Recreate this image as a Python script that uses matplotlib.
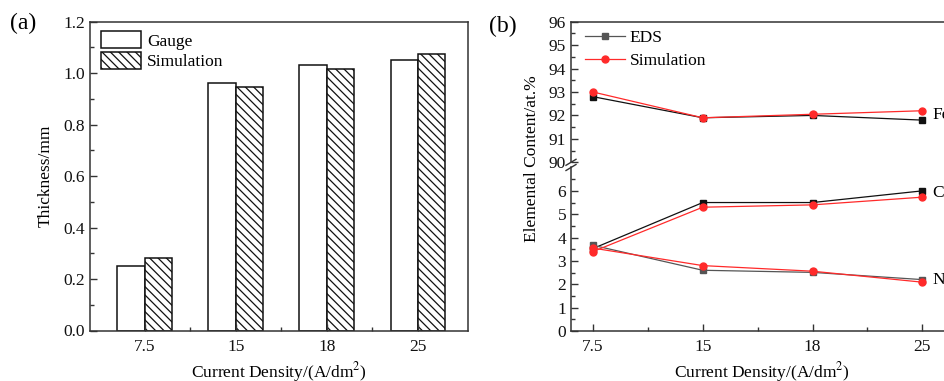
import numpy as np
import matplotlib
matplotlib.use('Agg')
import matplotlib.pyplot as plt
from matplotlib.ticker import MultipleLocator, FixedLocator

plt.rcParams['font.family'] = ['Liberation Serif', 'DejaVu Serif']
plt.rcParams['mathtext.fontset'] = 'stix'
plt.rcParams['hatch.linewidth'] = 0.9
plt.rcParams['hatch.color'] = '#222222'

fs = 12.5
categories = ['7.5', '15', '18', '25']

# panel (a): thickness
gauge = [0.25, 0.96, 1.03, 1.05]
thick_sim = [0.28, 0.945, 1.015, 1.075]

# panel (b): elemental content
fe_eds = [92.8, 91.9, 92.0, 91.8]
fe_sim = [93.0, 91.9, 92.05, 92.2]
co_eds = [3.53, 5.5, 5.5, 6.0]
co_sim = [3.4, 5.3, 5.4, 5.73]
ni_eds = [3.67, 2.6, 2.51, 2.2]
ni_sim = [3.55, 2.8, 2.56, 2.09]

W, H = 945, 381
fig = plt.figure(figsize=(W / 100, H / 100), dpi=100)

def px(l, t, r, b):
    return [l / W, 1 - b / H, (r - l) / W, (b - t) / H]

spine_c = '#333333'
black = '#111111'
gray = '#555555'
red = '#ff2a2a'

def style(ax):
    for s in ax.spines.values():
        s.set_color(spine_c)
        s.set_linewidth(1.1)
    ax.tick_params(which='both', direction='in', colors=spine_c, labelcolor='#111111',
                   labelsize=fs, top=False, right=False)
    ax.tick_params(which='major', length=5, width=1)
    ax.tick_params(which='minor', length=3, width=1)

# ---------- (a) ----------
ax1 = fig.add_axes(px(90, 21.7, 468, 330.5))
x = np.arange(len(categories))
w = 0.3
ax1.bar(x - w / 2, gauge, w, color='white', edgecolor=black, linewidth=1.1, label='Gauge')
ax1.bar(x + w / 2, thick_sim, w, color='white', edgecolor=black, linewidth=1.1,
        hatch='\\\\\\\\', label='Simulation')
ax1.set_xlim(-0.6, 3.55)
ax1.set_ylim(0, 1.2)
ax1.set_xticks(x)
ax1.set_xticklabels(categories)
ax1.xaxis.set_minor_locator(FixedLocator([0.5, 1.5, 2.5]))
ax1.yaxis.set_major_locator(MultipleLocator(0.2))
ax1.yaxis.set_minor_locator(MultipleLocator(0.1))
ax1.yaxis.set_major_formatter(matplotlib.ticker.FormatStrFormatter('%.1f'))
style(ax1)
ax1.tick_params(axis='x', pad=6)
ax1.set_ylabel('Thickness/mm', fontsize=fs, labelpad=7)
ax1.set_xlabel('Current Density/(A/dm$^2$)', fontsize=fs)
ax1.xaxis.set_label_coords(0.5, -0.094)
ax1.legend(loc='upper left', bbox_to_anchor=(0.029, 0.969), frameon=False, fontsize=fs,
           borderpad=0, borderaxespad=0, handlelength=2.3, handleheight=1.13,
           handletextpad=0.35, labelspacing=0.14)

# ---------- (b) ----------
axt = fig.add_axes(px(571, 21.7, 952, 162.3))
axb = fig.add_axes(px(571, 167.5, 952, 331))
for ax in (axt, axb):
    ax.set_xlim(-0.2, 3.27)
    style(ax)

axt.spines['bottom'].set_visible(False)
axb.spines['top'].set_visible(False)
axt.tick_params(axis='x', which='both', bottom=False, labelbottom=False)
axt.set_ylim(90, 96)
axt.yaxis.set_major_locator(MultipleLocator(1))
axt.yaxis.set_minor_locator(MultipleLocator(0.5))
axb.set_ylim(0, 7.0)
axb.yaxis.set_major_locator(FixedLocator(range(0, 7)))
axb.yaxis.set_minor_locator(FixedLocator(np.arange(0.5, 7, 1.0)))
axb.set_xticks(x)
axb.set_xticklabels(categories)
axb.xaxis.set_minor_locator(FixedLocator([0.5, 1.5, 2.5]))
axb.tick_params(axis='x', pad=6)

mk = dict(linewidth=0.9)
axt.plot(x, fe_eds, color=black, marker='s', markersize=4.5, label='EDS', **mk)
axb.plot(x, co_eds, color=black, marker='s', markersize=4.5, **mk)
axb.plot(x, ni_eds, color=gray, marker='s', markersize=4.5, **mk)
axt.plot(x, fe_sim, color=red, marker='o', markersize=5, label='Simulation', **mk)
axb.plot(x, co_sim, color=red, marker='o', markersize=5, **mk)
axb.plot(x, ni_sim, color=red, marker='o', markersize=5, **mk)

leg = axt.legend(loc='upper left', bbox_to_anchor=(0.036, 0.94), frameon=False, fontsize=fs,
                 borderpad=0, borderaxespad=0, handlelength=2.3, handletextpad=0.3,
                 labelspacing=0.4)
eds_handle = leg.get_lines()[0]
eds_handle.set_color(gray)
eds_handle.set_markerfacecolor(gray)
eds_handle.set_markeredgecolor(gray)

axt.text(3.09, 92.0, 'Fe', fontsize=fs, va='center', ha='left', clip_on=False)
axb.text(3.09, 5.9, 'Co', fontsize=fs, va='center', ha='left', clip_on=False)
axb.text(3.09, 2.2, 'Ni', fontsize=fs, va='center', ha='left', clip_on=False)

# break marks on the left spine
dx, dy = 5 / 381, 3 / 140.6
axt.plot([-dx, dx], [-dy, dy], transform=axt.transAxes, color=spine_c, lw=1, clip_on=False)
dy2 = 3 / 163.5
axb.plot([-dx, dx], [1 - dy2, 1 + dy2], transform=axb.transAxes, color=spine_c, lw=1, clip_on=False)

fig.text(532 / W, 1 - 159 / H, 'Elemental Content/at.%', rotation=90, fontsize=fs,
         ha='center', va='center')
axb.set_xlabel('Current Density/(A/dm$^2$)', fontsize=fs)
axb.xaxis.set_label_coords((761.5 - 571) / 381, -0.176)

fig.text(10 / W, 1 - 23 / H, '(a)', fontsize=17, ha='left', va='center')
fig.text(489 / W, 1 - 26 / H, '(b)', fontsize=17, ha='left', va='center')

fig.savefig('out.png', dpi=100)
